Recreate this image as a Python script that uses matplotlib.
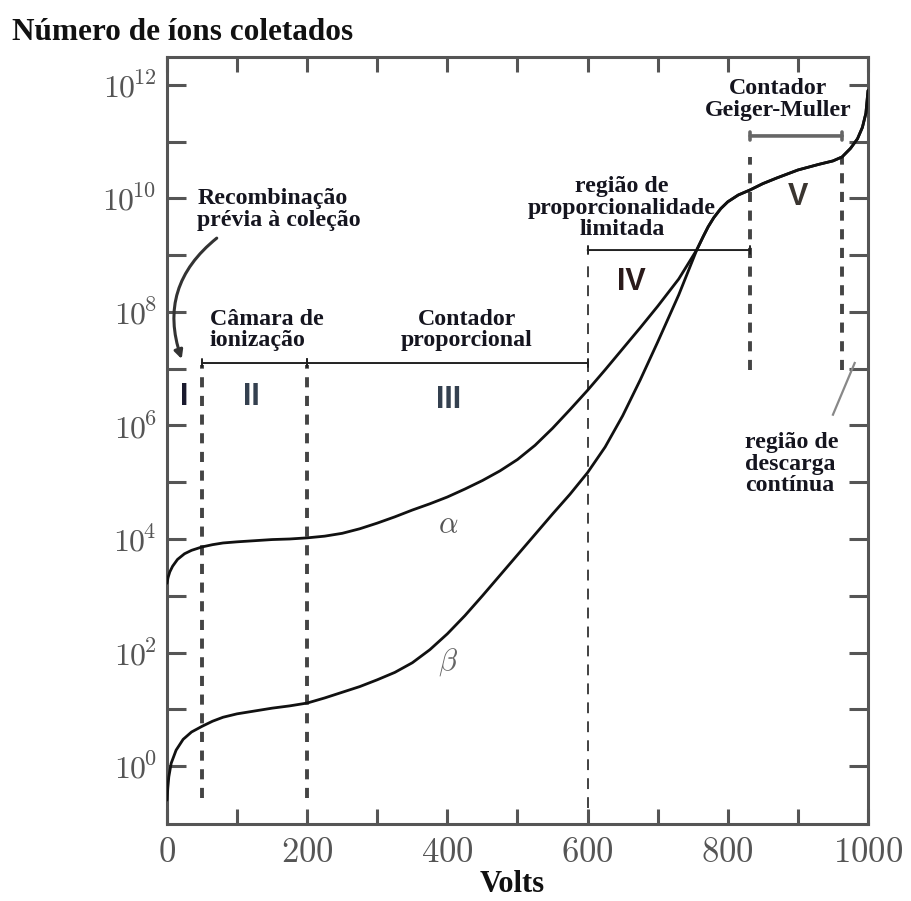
import numpy as np
import matplotlib
matplotlib.use("Agg")
import matplotlib.pyplot as plt
from matplotlib.ticker import FixedLocator, NullFormatter, FixedFormatter

plt.rcParams['mathtext.fontset'] = 'cm'

# ---- data (log10 of number of collected ions vs volts) ----
volts_alpha = [0, 1.5, 4, 8, 15, 25, 35, 50, 65, 80, 100, 125, 150, 175, 200,
               225, 250, 275, 300, 325, 350, 375, 400, 425, 450, 475, 500, 525,
               550, 575, 600, 625, 650, 675, 700, 730, 756, 765, 772, 780, 790,
               800, 815, 832, 850, 870, 900, 930, 950, 963, 975, 985, 992, 997,
               1000]
log_alpha = [3.22, 3.32, 3.42, 3.52, 3.64, 3.74, 3.80, 3.86, 3.90, 3.93, 3.95,
             3.97, 3.99, 4.00, 4.02, 4.05, 4.10, 4.18, 4.28, 4.39, 4.51, 4.62,
             4.74, 4.88, 5.03, 5.20, 5.40, 5.65, 5.95, 6.28, 6.62, 6.98, 7.35,
             7.72, 8.10, 8.58, 9.10, 9.33, 9.50, 9.66, 9.82, 9.94, 10.06, 10.15,
             10.26, 10.36, 10.50, 10.60, 10.66, 10.73, 10.88, 11.05, 11.25,
             11.50, 11.90]

volts_beta = [0, 1.2, 2.6, 6, 13, 23, 35, 50, 65, 80, 100, 125, 150, 175, 200,
              225, 250, 275, 300, 325, 350, 375, 400, 425, 450, 475, 500, 525,
              550, 575, 600, 625, 650, 675, 700, 730, 756, 765, 772, 780, 790,
              800, 815, 832, 850, 870, 900, 930, 950, 963, 975, 985, 992, 997,
              1000]
log_beta = [-0.60, -0.38, -0.19, 0.05, 0.28, 0.47, 0.60, 0.70, 0.79, 0.86, 0.92,
            0.97, 1.02, 1.06, 1.11, 1.20, 1.30, 1.40, 1.52, 1.65, 1.82, 2.05,
            2.33, 2.65, 3.00, 3.36, 3.72, 4.08, 4.44, 4.79, 5.17, 5.62, 6.17,
            6.80, 7.47, 8.30, 9.10, 9.33, 9.50, 9.66, 9.82, 9.94, 10.06, 10.15,
            10.26, 10.36, 10.50, 10.60, 10.66, 10.73, 10.88, 11.05, 11.25,
            11.50, 11.90]

# region boundaries (volts) and their dashed extents (log10)
bound_volts = [50, 200, 600, 832, 963]
bound_low = [-0.56, -0.56, -0.74, 6.98, 6.98]
bound_high = [7.07, 7.07, 8.86, 10.73, 10.73]

# brackets: (start V, end V, log10 level)
brackets = [(50, 200, 7.1), (200, 600, 7.1), (600, 832, 9.09), (832, 963, 11.1)]

roman = ["I", "II", "III", "IV", "V"]
roman_v = [25, 121, 401, 663, 900]
roman_log = [6.5, 6.5, 6.45, 8.53, 10.03]

xticks_major = [0, 200, 400, 600, 800, 1000]
xticks_minor = [100, 300, 500, 700, 900]
ytick_exps = [0, 2, 4, 6, 8, 10, 12]
ytick_minor_exps = [1, 3, 5, 7, 9, 11]

fig = plt.figure(figsize=(9.11, 9.01), dpi=100)
ax = fig.add_axes([0.1833, 0.0855, 0.7695, 0.8512])

ax.set_yscale('log')
ax.set_xlim(0, 1000)
ax.set_ylim(10 ** -1.02, 10 ** 12.49)

ax.plot(volts_alpha, [10 ** v for v in log_alpha], color='#111111', lw=2.0,
        solid_capstyle='round', solid_joinstyle='round', zorder=5)
ax.plot(volts_beta, [10 ** v for v in log_beta], color='#111111', lw=2.0,
        solid_capstyle='round', solid_joinstyle='round', zorder=5)

# dashed boundaries
styles = [dict(lw=2.8, dashes=(2.6, 2.2), color='#444444'),
          dict(lw=2.8, dashes=(2.6, 2.2), color='#444444'),
          dict(lw=1.3, dashes=(6, 4.5), color='#333333'),
          dict(lw=2.8, dashes=(2.6, 2.2), color='#444444'),
          dict(lw=2.8, dashes=(2.6, 2.2), color='#444444')]
for v, lo, hi, st in zip(bound_volts, bound_low, bound_high, styles):
    ax.plot([v, v], [10 ** lo, 10 ** hi], linestyle='--', **st, zorder=3)

# brackets
for i, (a, b, lv) in enumerate(brackets):
    if i == 3:
        col, lw = '#666666', 2.6
    else:
        col, lw = '#222222', 1.4
    ax.annotate('', xy=(a, 10 ** lv), xytext=(b, 10 ** lv),
                arrowprops=dict(arrowstyle='|-|,widthA=0.3,widthB=0.3',
                                color=col, lw=lw, shrinkA=0, shrinkB=0))

# roman numerals
roman_cols = ['#1a1a2e', '#34404f', '#34404f', '#2a1a1a', '#3a3530']
for t, v, lv, c in zip(roman, roman_v, roman_log, roman_cols):
    ax.text(v, 10 ** lv, t, ha='center', va='center', fontsize=22,
            fontweight='bold', family='Liberation Sans', color=c)

# greek labels
ax.text(401, 10 ** 4.25, r'$\alpha$', ha='center', va='center', fontsize=22,
        color='#555555')
ax.text(401, 10 ** 1.83, r'$\beta$', ha='center', va='center', fontsize=22,
        color='#666666')

tkw = dict(fontsize=17.2, fontweight='bold', family='Liberation Serif',
           color='#15151f', linespacing=1.05)
ax.text(43, 10 ** 9.81, 'Recombinação\nprévia à coleção', ha='left', va='center', **tkw)
ax.text(61, 10 ** 7.68, 'Câmara de\nionização', ha='left', va='center', **tkw)
ax.text(428, 10 ** 7.68, 'Contador\nproporcional', ha='center', va='center', **tkw)
ax.text(649, 10 ** 9.83, 'região de\nproporcionalidade\nlimitada', ha='center',
        va='center', **tkw)
ax.text(872, 10 ** 11.74, 'Contador\nGeiger-Muller', ha='center', va='center', **tkw)
ax.text(825, 10 ** 5.32, 'região de\ndescarga\ncontínua', ha='left', va='center', **tkw)

# curved arrow for recombination
ax.annotate('', xy=(21, 10 ** 7.17), xytext=(71, 10 ** 9.30),
            arrowprops=dict(arrowstyle='-|>,head_length=0.5,head_width=0.25',
                            connectionstyle='arc3,rad=0.35', color='#333333',
                            lw=2.2, shrinkA=0, shrinkB=0))
# pointer for continuous discharge
ax.plot([950, 981], [10 ** 6.19, 10 ** 7.1], color='#888888', lw=1.6)

# ticks
ax.xaxis.set_major_locator(FixedLocator(xticks_major))
ax.xaxis.set_minor_locator(FixedLocator(xticks_minor))
ax.xaxis.set_major_formatter(FixedFormatter([f'${v}$' for v in xticks_major]))
ax.xaxis.set_minor_formatter(NullFormatter())
ax.yaxis.set_major_locator(FixedLocator([10.0 ** k for k in ytick_exps]))
ax.yaxis.set_minor_locator(FixedLocator([10.0 ** k for k in ytick_minor_exps]))
ax.yaxis.set_major_formatter(FixedFormatter([f'$10^{{\\!{k}}}$' for k in ytick_exps]))
ax.yaxis.set_minor_formatter(NullFormatter())

ax.tick_params(which='both', direction='in', length=14, width=2.2,
               color='#555555', top=True, right=True)
ax.tick_params(axis='x', which='both', length=11)
ax.tick_params(axis='x', labelsize=25, labelcolor='#555555', pad=8)
ax.tick_params(axis='y', labelsize=23, labelcolor='#555555', pad=8)

for s in ax.spines.values():
    s.set_linewidth(2.2)
    s.set_color('#555555')

fig.text(12 / 911, 1 - 32 / 901, 'Número de íons coletados', ha='left', va='center',
         fontsize=22.5, fontweight='bold', family='Liberation Serif', color='#111111')
fig.text(512 / 911, 1 - 884 / 901, 'Volts', ha='center', va='center',
         fontsize=22, fontweight='bold', family='Liberation Serif', color='#111111')

fig.savefig('out.png', dpi=100, facecolor='white')
